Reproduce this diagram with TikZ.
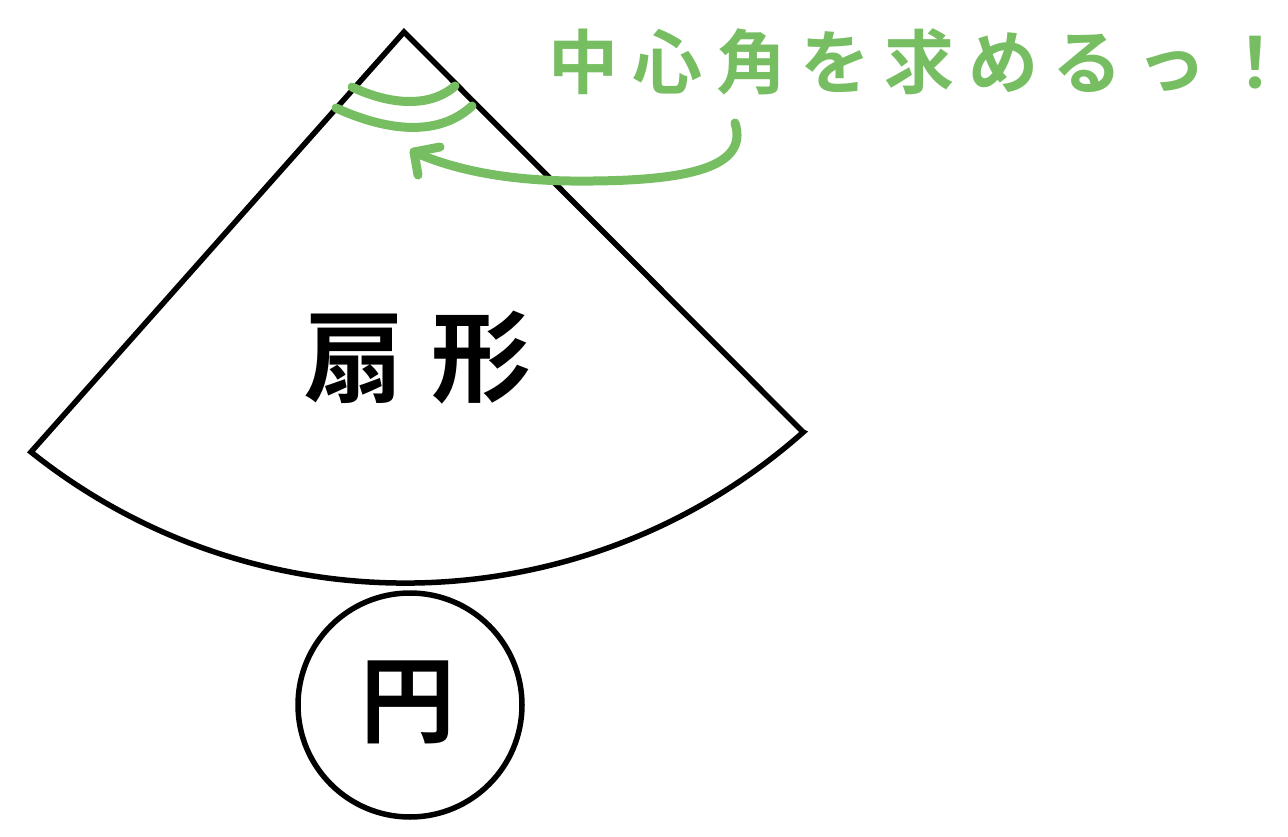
\documentclass[tikz,border=0pt]{standalone}
\usepackage{fontspec}
\newfontfamily\jpfont{Noto Sans CJK JP}
\newfontfamily\jpbold{Noto Sans CJK JP Bold}
\definecolor{mygreen}{HTML}{77BE63}
\tikzset{
  shapeline/.style={line width=5.5pt, line join=miter},
  greenline/.style={draw=mygreen, line width=9pt, line cap=round, line join=round},
}
\begin{document}
\begin{tikzpicture}[x=1pt,y=-1pt]
\useasboundingbox (0,0) rectangle (1288,837);
% sector
\coordinate (apex) at (404,32);
\coordinate (L) at (31,452);
\coordinate (R) at (803,432);
\draw[shapeline] (R) -- (apex) -- (L) arc[start angle=128.6, end angle=48.45, radius=600] -- cycle;
\node[font=\jpbold\fontsize{100}{110}\selectfont\addfontfeature{LetterSpace=27}] (fan) at (418,358) {扇形};
% circle
\node[draw, shapeline, circle, minimum size=224pt, inner sep=0pt] (circ) at (410,705) {};
\node[font=\jpbold\fontsize{95}{100}\selectfont] (en) at (408,702) {円};
% green arcs at apex
\draw[greenline] (352,87) .. controls (390,105) and (430,108) .. (455,86);
\draw[greenline] (336,108) .. controls (380,128) and (435,140) .. (472,106);
% label
\node[font=\jpbold\fontsize{70}{80}\selectfont\addfontfeature{LetterSpace=20}, text=mygreen, anchor=west, inner sep=0pt] (lbl) at (548,62) {中心角を求めるっ！};
% arrow
\coordinate (s) at (735,123);
\coordinate (tip) at (414,152);
\coordinate (b1) at (440,147);
\coordinate (b2) at (418,175);
\draw[greenline] (s) .. controls (750,170) and (680,182) .. (570,181) .. controls (500,180) and (450,168) .. (tip);
\draw[greenline] (b1) -- (tip) -- (b2);
\end{tikzpicture}
\end{document}
